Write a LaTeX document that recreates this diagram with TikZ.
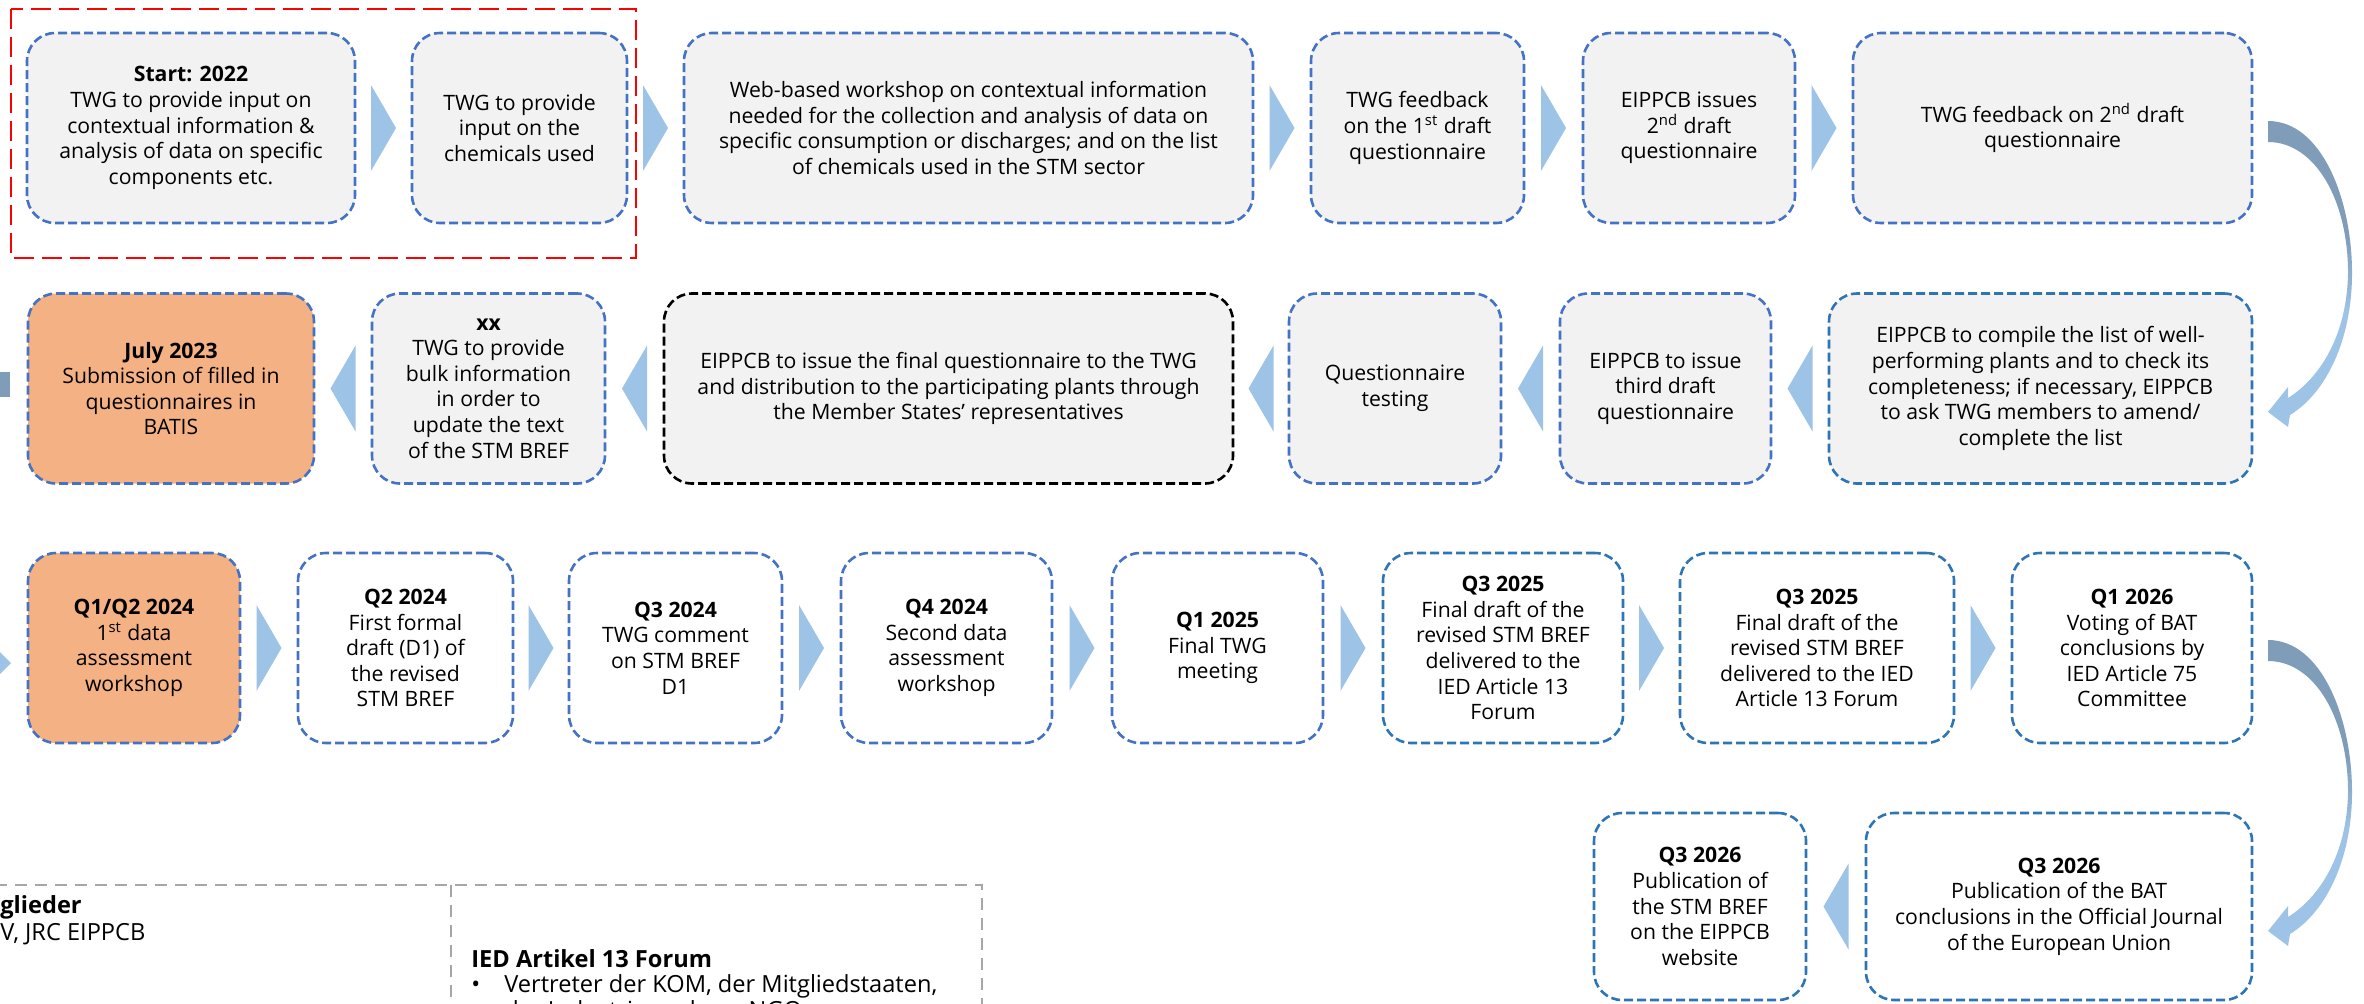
\documentclass[tikz,border=0pt]{standalone}
\usepackage{fontspec}
\setmainfont{Open Sans}
\usetikzlibrary{calc}
\definecolor{boxgrey}{HTML}{F2F2F2}
\definecolor{boxorange}{HTML}{F4B183}
\definecolor{lineblue}{HTML}{4472C4}
\definecolor{darkblue}{HTML}{2E75B6}
\definecolor{chev}{HTML}{9DC3E6}
\definecolor{curvedark}{HTML}{7F9DB9}
\definecolor{legendgrey}{HTML}{A6A6A6}
\pgfdeclareverticalshading{curveshade}{100bp}{color(0bp)=(chev); color(44bp)=(chev); color(56bp)=(curvedark); color(100bp)=(curvedark)}
\tikzset{
  box/.style={draw=lineblue, line width=1.3pt, dash pattern=on 4.5pt off 2pt, rounded corners=14pt, align=center, inner sep=0pt, font=\fontsize{10.6}{12.8}\selectfont, text=black},
  greybox/.style={box, fill=boxgrey},
  orangebox/.style={box, fill=boxorange},
  whitebox/.style={box, fill=white},
  darkline/.style={draw=darkblue},
  sz/.style 2 args={minimum width=#1*0.5pt, minimum height=#2*0.5pt},
  chevron/.style={fill=chev, draw=none},
  redframe/.style={draw=red, line width=1.4pt, dash pattern=on 10pt off 4pt},
  legendline/.style={draw=legendgrey, line width=1pt, dash pattern=on 6pt off 4pt},
  legtext/.style={anchor=base west, inner sep=0pt, font=\fontsize{11.8}{13}\selectfont},
  legbold/.style={legtext, font=\fontsize{11.8}{13}\selectfont\bfseries}
}
\newcommand\chevR[2]{\fill[chevron] ($(#1.east)!0.5!(#2.west)$) ++(-12.5,-43) -- ++(25,43) -- ++(-25,43) -- cycle;}
\newcommand\chevL[2]{\fill[chevron] ($(#1.west)!0.5!(#2.east)$) ++(12.5,-43) -- ++(-25,43) -- ++(25,43) -- cycle;}
\newcommand\bigcurve[1]{\shade[shading=curveshade, shift={(0,#1)}] (2268,121) .. controls (2322,121) and (2352,200) .. (2352,273) .. controls (2352,340) and (2326,393) .. (2290,415) -- (2288,427) -- (2268,412) -- (2288,387) -- (2288,398) .. controls (2320,378) and (2347,335) .. (2348,273) .. controls (2348,200) and (2315,142) .. (2268,142) -- cycle;}
\begin{document}
\begin{tikzpicture}[x=0.5pt,y=-0.5pt]
\useasboundingbox (0,0) rectangle (2364,1003);
\clip (0,0) rectangle (2364,1003);

% group frame
\draw[redframe] (11,9) rectangle (636,258);

% row 1
\node[greybox, sz={328}{190}] (A) at (191,128) {\textbf{Start: 2022}\\TWG to provide input on\\contextual information \&\\analysis of data on specific\\components etc.};
\node[greybox, sz={215}{190}] (B) at (519.5,128) {TWG to provide\\input on the\\chemicals used};
\node[greybox, sz={569}{190}] (C) at (968.5,128) {Web-based workshop on contextual information\\needed for the collection and analysis of data on\\specific consumption or discharges; and on the list\\of chemicals used in the STM sector};
\node[greybox, sz={213}{190}] (D) at (1417.5,128) {TWG feedback\\on the 1\textsuperscript{st} draft\\questionnaire};
\node[greybox, sz={212}{190}] (E) at (1689,128) {EIPPCB issues\\2\textsuperscript{nd} draft\\questionnaire};
\node[greybox, sz={399}{190}] (F) at (2052.5,128) {TWG feedback on 2\textsuperscript{nd} draft\\questionnaire};

% row 2
\node[orangebox, sz={286}{190}] (G) at (171,388.5) {\textbf{July 2023}\\Submission of filled in\\questionnaires in\\BATIS};
\node[greybox, sz={233}{190}] (H) at (488.5,388.5) {\textbf{xx}\\TWG to provide\\bulk information\\in order to\\update the text\\of the STM BREF};
\node[greybox, draw=black, sz={569}{190}] (I) at (948.5,388.5) {EIPPCB to issue the final questionnaire to the TWG\\and distribution to the participating plants through\\the Member States’ representatives};
\node[greybox, sz={212}{190}] (J) at (1395,388.5) {Questionnaire\\testing};
\node[greybox, sz={211}{190}] (K) at (1665.5,388.5) {EIPPCB to issue\\third draft\\questionnaire};
\node[greybox, darkline, sz={423}{190}] (L) at (2040.5,388.5) {EIPPCB to compile the list of well-\\performing plants and to check its\\completeness; if necessary, EIPPCB\\to ask TWG members to amend/\\complete the list};

% row 3
\node[orangebox, sz={212}{190}] (M) at (134,648) {\textbf{Q1/Q2 2024}\\1\textsuperscript{st} data\\assessment\\workshop};
\node[whitebox, sz={215}{190}] (N) at (405.5,648) {\textbf{Q2 2024}\\First formal\\draft (D1) of\\the revised\\STM BREF};
\node[whitebox, sz={213}{190}] (O) at (675.5,648) {\textbf{Q3 2024}\\TWG comment\\on STM BREF\\D1};
\node[whitebox, sz={211}{190}] (P) at (946.5,648) {\textbf{Q4 2024}\\Second data\\assessment\\workshop};
\node[whitebox, sz={211}{190}] (Q) at (1217.5,648) {\textbf{Q1 2025}\\Final TWG\\meeting};
\node[whitebox, darkline, sz={240}{190}] (R) at (1503,648) {\textbf{Q3 2025}\\Final draft of the\\revised STM BREF\\delivered to the\\IED Article 13\\Forum};
\node[whitebox, darkline, sz={274}{190}] (S) at (1817,648) {\textbf{Q3 2025}\\Final draft of the\\revised STM BREF\\delivered to the IED\\Article 13 Forum};
\node[whitebox, darkline, sz={240}{190}] (T) at (2132,648) {\textbf{Q1 2026}\\Voting of BAT\\conclusions by\\IED Article 75\\Committee};

% row 4
\node[whitebox, darkline, sz={212}{187}] (U) at (1700,906.5) {\textbf{Q3 2026}\\Publication of\\the STM BREF\\on the EIPPCB\\website};
\node[whitebox, darkline, sz={386}{187}] (V) at (2059,906.5) {\textbf{Q3 2026}\\Publication of the BAT\\conclusions in the Official Journal\\of the European Union};

% chevrons
\chevR{A}{B} \chevR{B}{C} \chevR{C}{D} \chevR{D}{E} \chevR{E}{F}
\chevL{H}{G} \chevL{I}{H} \chevL{J}{I} \chevL{K}{J} \chevL{L}{K}
\chevR{M}{N} \chevR{N}{O} \chevR{O}{P} \chevR{P}{Q} \chevR{Q}{R} \chevR{R}{S} \chevR{S}{T}
\chevL{V}{U}

% curved arrows
\bigcurve{0}
\bigcurve{519}
\fill[curvedark] (0,372) rectangle (10,397);
\fill[chev] (0,652) -- (11,663) -- (0,674) -- cycle;

% legend
\draw[legendline] (-5,885) -- (982,885) -- (982,1010);
\draw[legendline] (451,885) -- (451,1010);
\node[legbold] (lg1) at (0,913) {glieder};
\node[legtext] (lg2) at (0,940) {V, JRC EIPPCB};
\node[legbold] (lg3) at (471,967) {IED Artikel 13 Forum};
\node[legtext] (lg4) at (471,992) {\textbullet};
\node[legtext] (lg5) at (504,992) {Vertreter der KOM, der Mitgliedstaaten,};
\node[legtext] (lg6) at (504,1018) {der Industrie und von NGOs};
\end{tikzpicture}
\end{document}
